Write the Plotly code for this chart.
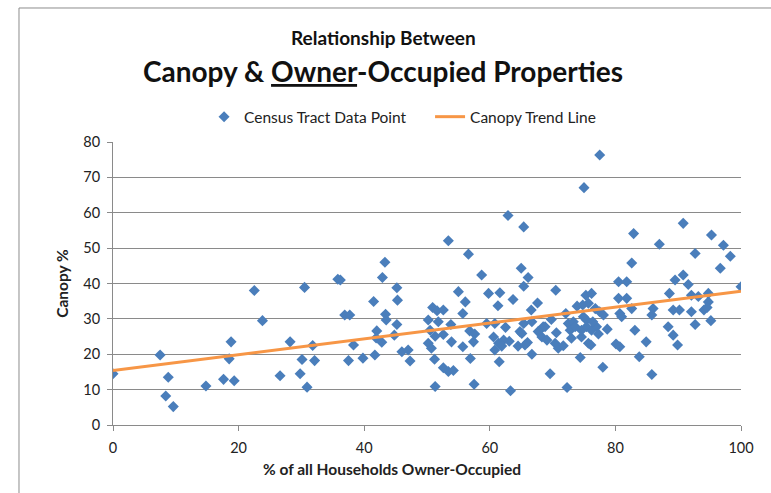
import plotly.graph_objects as go

# Census tract observations: % owner-occupied households vs. tree canopy %
owner_pct = [
    0, 7.5, 8.4, 8.8, 9.6, 14.8, 17.6, 18.5, 18.8, 19.3,
    22.5, 23.8, 26.6, 28.2, 29.8, 30.1, 30.5, 30.9, 31.8, 32.1,
    35.8, 36.2, 36.9, 37.7, 37.5, 38.3, 39.8, 41.5, 41.7, 42.0,
    41.9, 42.8, 42.9, 43.3, 43.4, 43.5, 44.8, 45.2, 45.3, 45.2,
    46.0, 47.0, 47.3, 50.2, 50.9, 51.6, 52.6, 51.8, 50.5, 51.3,
    52.6, 53.9, 50.2, 50.7, 51.2, 51.3, 52.6, 53.4, 54.2, 53.4,
    53.8, 55.0, 55.7, 55.7, 56.1, 56.6, 56.8, 57.4, 57.6, 56.9,
    57.5, 58.7, 59.5, 59.8, 60.8, 60.6, 61.4, 62.2, 60.8, 61.3,
    61.5, 61.6, 62.5, 62.9, 63.1, 63.3, 63.7, 64.5, 64.8, 65.0,
    65.4, 66.1, 65.4, 65.4, 65.1, 66.0, 66.7, 66.6, 67.6, 66.7,
    68.5, 67.7, 68.3, 69.1, 69.8, 70.5, 69.6, 70.6, 70.4, 70.9,
    71.7, 72.1, 72.5, 73.0, 73.3, 72.8, 73.0, 74.6, 75.7, 74.6,
    75.4, 76.2, 77.0, 77.3, 78.7, 74.9, 75.4, 76.4, 73.9, 74.8,
    75.3, 76.2, 75.7, 76.8, 77.5, 78.1, 76.1, 74.4, 78.0, 72.3,
    75.0, 77.5, 80.5, 81.8, 80.5, 81.8, 80.7, 81.0, 82.6, 83.1,
    84.9, 83.8, 85.8, 80.1, 80.7, 86.0, 85.8, 88.6, 89.5, 90.8,
    91.6, 89.2, 90.2, 92.1, 93.2, 92.1, 92.7, 88.4, 89.2, 89.9,
    94.8, 94.8, 94.1, 94.6, 95.2, 82.9, 90.8, 87.0, 95.3, 97.2,
    98.3, 92.7, 96.7, 82.6, 100.0, 61.9, 65.6, 73.6, 68.8,
]
canopy_pct = [
    14.5, 19.8, 8.2, 13.5, 5.2, 11.0, 12.9, 18.7, 23.5, 12.5,
    38.0, 29.5, 13.9, 23.5, 14.5, 18.5, 38.9, 10.7, 22.5, 18.2,
    41.2, 41.0, 31.1, 31.1, 18.2, 22.6, 18.9, 34.9, 19.8, 26.6,
    24.6, 23.4, 41.7, 46.0, 31.3, 29.7, 25.4, 38.8, 35.3, 28.4,
    20.7, 21.2, 18.1, 29.7, 33.2, 32.3, 32.5, 29.2, 26.8, 25.1,
    25.6, 23.5, 23.1, 21.7, 18.6, 10.9, 16.2, 15.1, 15.4, 52.1,
    28.4, 37.7, 31.5, 22.1, 34.8, 48.3, 26.6, 23.5, 25.7, 18.8,
    11.5, 42.4, 28.7, 37.2, 28.7, 24.9, 23.1, 24.0, 21.2, 33.7,
    17.9, 37.4, 27.6, 59.2, 23.7, 9.7, 35.5, 22.3, 26.4, 44.3,
    56.0, 41.7, 39.2, 28.7, 25.9, 23.3, 20.0, 32.5, 34.5, 29.2,
    27.8, 26.4, 24.9, 24.0, 29.8, 38.1, 14.5, 26.1, 23.1, 21.7,
    22.4, 31.5, 28.7, 27.8, 29.2, 26.8, 24.5, 24.9, 23.1, 26.8,
    27.8, 26.8, 27.8, 25.7, 27.1, 30.6, 29.7, 29.2, 33.6, 33.9,
    36.7, 37.2, 34.4, 32.9, 32.0, 31.1, 22.6, 19.1, 16.3, 10.6,
    67.1, 76.3, 40.5, 40.5, 35.8, 35.8, 31.5, 30.6, 32.9, 26.8,
    23.5, 19.3, 14.3, 22.9, 22.1, 32.9, 31.1, 37.2, 41.0, 42.4,
    39.7, 32.5, 32.5, 36.7, 36.3, 32.0, 28.4, 27.8, 25.4, 22.6,
    37.2, 34.8, 32.5, 33.2, 29.5, 54.1, 57.0, 51.1, 53.7, 50.8,
    47.7, 48.5, 44.3, 45.8, 39.1, 22.3, 22.6, 27.8, 27.8,
]

# Linear trend line end points
trend_x = [0, 100]
trend_y = [15.4, 37.8]

x_ticks = [0, 20, 40, 60, 80, 100]
y_ticks = [0, 10, 20, 30, 40, 50, 60, 70, 80]

FONT = "Lato, 'Open Sans', sans-serif"
GRID = "#8a8a8a"

fig = go.Figure()
fig.add_trace(go.Scatter(
    x=owner_pct, y=canopy_pct, mode="markers",
    name="Census Tract Data Point",
    marker=dict(symbol="diamond", size=8.5, color="#4a7ebb", line=dict(width=0)),
))
fig.add_trace(go.Scatter(
    x=trend_x, y=trend_y, mode="lines",
    name="Canopy Trend Line",
    line=dict(color="#f79646", width=3),
))

fig.update_layout(
    width=771, height=493, autosize=False,
    margin=dict(l=113, r=30, t=142, b=68),
    paper_bgcolor="white", plot_bgcolor="white",
    font=dict(family=FONT, size=14, color="#222222"),
    showlegend=True,
    legend=dict(
        orientation="h", x=0.145, xanchor="left", y=1.088, yanchor="middle",
        font=dict(family=FONT, size=15.5, color="#222222"),
        bgcolor="rgba(0,0,0,0)", itemclick=False,
        entrywidth=181, entrywidthmode="pixels",
    ),
    xaxis=dict(
        range=[0, 100], tickvals=x_ticks, showgrid=False, zeroline=False,
        showline=True, linecolor=GRID, linewidth=1,
        ticks="outside", ticklen=5, tickcolor=GRID,
        tickfont=dict(size=14.5), ticklabelstandoff=5, fixedrange=True,
    ),
    yaxis=dict(
        range=[0, 80], tickvals=y_ticks, showgrid=True, gridcolor=GRID,
        gridwidth=1, zeroline=False,
        showline=True, linecolor=GRID, linewidth=1,
        ticks="outside", ticklen=5, tickcolor=GRID,
        tickfont=dict(size=14.5), ticklabelstandoff=4, fixedrange=True,
        title=dict(text="<b>Canopy %</b>", font=dict(size=15.5), standoff=10),
    ),
    annotations=[
        dict(text="<b>Relationship Between</b>", xref="paper", yref="paper",
             x=0.43, y=1.368, xanchor="center", yanchor="middle",
             showarrow=False, font=dict(size=19, color="#111111")),
        dict(text="<b>Canopy &amp; <u>Owner</u>-Occupied Properties</b>",
             xref="paper", yref="paper", x=0.43, y=1.25,
             xanchor="center", yanchor="middle", showarrow=False,
             font=dict(size=28, color="#111111")),
        dict(text="<b>% of all Households Owner-Occupied</b>",
             xref="paper", yref="paper", x=0.444, y=-0.155,
             xanchor="center", yanchor="middle", showarrow=False,
             font=dict(size=15.5, color="#222222")),
    ],
    shapes=[
        dict(type="rect", xref="paper", yref="paper",
             x0=-0.1497, x1=1.3, y0=-0.5, y1=1.4735,
             line=dict(color="#8c8c8c", width=1), layer="below"),
    ],
)

fig.write_html("out.html")
